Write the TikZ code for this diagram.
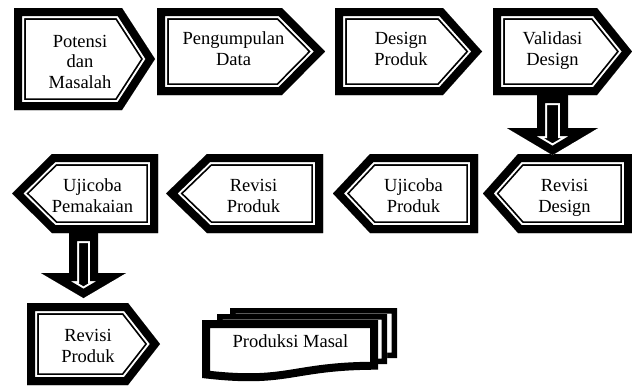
\documentclass[tikz,border=0pt]{standalone}
\usepackage{fontspec}
\setmainfont{Liberation Serif}
\tikzset{
  lbl/.style={anchor=base, inner sep=0pt, font=\fontsize{18.5}{20.5}\selectfont},
}
\newcommand\mlines[1]{\begin{tabular}[b]{@{}c@{}}#1\end{tabular}}
% thick-thin framed shape (border drawn inside the outline)
\newcommand\framedpath[1]{\begin{scope}\clip #1;\fill[white] #1;\draw[line width=23.5pt] #1;\draw[white,line width=20pt] #1;\draw[line width=16pt] #1;\end{scope}}
% block arrow: black with a white inner outline
\newcommand\blockarrow[1]{\begin{scope}\clip #1;\fill #1;\draw[white,line width=20pt] #1;\draw[line width=16pt] #1;\end{scope}}
% document shape with inner border of width #2
\newcommand\docshape[2]{\begin{scope}\clip #1;\fill[white] #1;\draw[line width=#2] #1;\end{scope}}
\begin{document}
\begin{tikzpicture}[x=1pt,y=-1pt,line join=miter]
\useasboundingbox (0,0) rectangle (633,386);
% row 1
\framedpath{(14,8) -- (122,8) -- (155,59) -- (122,110) -- (14,110) -- cycle}
\framedpath{(157,8) -- (282,8) -- (325,51.5) -- (282,95) -- (157,95) -- cycle}
\framedpath{(335,8) -- (443,8) -- (482,51.5) -- (443,95) -- (335,95) -- cycle}
\framedpath{(493,8) -- (597,8) -- (632,51.5) -- (597,95) -- (493,95) -- cycle}
% row 2
\framedpath{(483,193.5) -- (518,154) -- (632,154) -- (632,233) -- (518,233) -- cycle}
\framedpath{(333,193.5) -- (370,154) -- (478,154) -- (478,233) -- (370,233) -- cycle}
\framedpath{(166,193.5) -- (207,154) -- (323,154) -- (323,233) -- (207,233) -- cycle}
\framedpath{(12,193.5) -- (52,154) -- (158,154) -- (158,233) -- (52,233) -- cycle}
% row 3
\framedpath{(27,303) -- (128,303) -- (160,344) -- (128,385) -- (27,385) -- cycle}
% block arrows
\blockarrow{(537,95) -- (568,95) -- (568,128) -- (598,128) -- (552.5,155) -- (507,128) -- (537,128) -- cycle}
\blockarrow{(69,233) -- (98,233) -- (98,273) -- (126,273) -- (83.5,298) -- (41,273) -- (69,273) -- cycle}
% multi-document
\docshape{(230,308) -- (397,308) -- (397,358) .. controls (313.5,358) and (313.5,377) .. (230,366) -- cycle}{11pt}
\docshape{(217,314) -- (387,314) -- (387,364) .. controls (302,364) and (302,383) .. (217,372) -- cycle}{11pt}
\docshape{(202,320) -- (378,320) -- (378,369.7) .. controls (290,369.7) and (290,388.6) .. (202,378) -- cycle}{16pt}
% labels
\node[lbl] (t1) at (80,88) {\mlines{Potensi\\dan\\Masalah}};
\node[lbl] (t2) at (233.5,65) {\mlines{Pengumpulan\\Data}};
\node[lbl] (t3) at (401,65) {\mlines{Design\\Produk}};
\node[lbl] (t4) at (552.5,65) {\mlines{Validasi\\Design}};
\node[lbl] (t5) at (564.5,212) {\mlines{Revisi\\Design}};
\node[lbl] (t6) at (413.5,212) {\mlines{Ujicoba\\Produk}};
\node[lbl] (t7) at (253.5,212) {\mlines{Revisi\\Produk}};
\node[lbl] (t8) at (92.5,212) {\mlines{Ujicoba\\Pemakaian}};
\node[lbl] (t9) at (88,362) {\mlines{Revisi\\Produk}};
\node[lbl] (t10) at (290.5,347) {Produksi Masal};
\end{tikzpicture}
\end{document}
